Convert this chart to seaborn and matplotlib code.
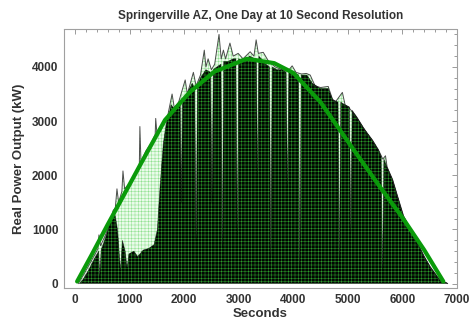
import matplotlib
matplotlib.use("Agg")
import matplotlib.pyplot as plt
import seaborn as sns
from matplotlib.ticker import MultipleLocator

# ---- data ----
peak_s = [60, 150, 300, 420, 440, 470, 560, 650, 700, 740, 770, 800, 860, 880, 910,
          1000, 1100, 1180, 1190, 1210, 1300, 1400, 1470, 1480, 1500, 1600, 1700,
          1780, 1820, 1900, 2020, 2060, 2170, 2220, 2300, 2370, 2400, 2440, 2500,
          2560, 2640, 2680, 2720, 2760, 2840, 2900, 2990, 3080, 3210, 3280, 3320,
          3360, 3450, 3550, 3670, 3800, 3900, 3980, 4050, 4150, 4240, 4310, 4400,
          4500, 4640, 4720, 4770, 4900, 4950, 5010, 5100, 5160, 5280, 5350, 5450,
          5560, 5640, 5690, 5720, 5820, 5900, 6020, 6150, 6275, 6400, 6510, 6640,
          6720, 6800, 6830]
peak_kw = [0, 150, 420, 640, 900, 700, 900, 1150, 1350, 1400, 1750, 1500, 1700, 2080, 1750,
           1850, 2000, 2200, 2900, 2250, 2450, 2600, 2750, 3050, 2800, 2950, 3100,
           3500, 3250, 3350, 3760, 3500, 3900, 3650, 3850, 4310, 4000, 4150, 3950,
           4050, 4600, 4150, 4310, 4150, 4440, 4200, 4250, 4150, 4280, 4200, 4500,
           4250, 4270, 4100, 4000, 3950, 3920, 4020, 3900, 3870, 3880, 3850, 3650,
           3620, 3640, 3400, 3350, 3530, 3300, 3260, 3150, 3080, 2880, 2780, 2650,
           2470, 2300, 2360, 2150, 1920, 1650, 1250, 1000, 760, 500, 310, 130,
           30, 20, 0]

base_s = [80, 150, 250, 350, 435, 455, 480, 560, 650, 700, 740, 780, 835, 870, 920,
          955, 990, 1080, 1150, 1250, 1350, 1450, 1510, 1560, 1620, 1680, 1720, 1760,
          1850, 1900, 1930, 1950, 1970, 2050, 2150, 2195, 2220, 2245, 2300, 2400,
          2485, 2510, 2535, 2600, 2675, 2700, 2725, 2800, 2900, 2950, 2975, 3000,
          3100, 3200, 3300, 3325, 3345, 3370, 3500, 3565, 3590, 3615, 3700, 3800,
          3870, 3895, 3920, 4050, 4095, 4120, 4145, 4250, 4350, 4500, 4640, 4720,
          4820, 4845, 4870, 4950, 5030, 5055, 5080, 5160, 5300, 5450, 5560, 5610,
          5635, 5660, 5720, 5820, 5900, 6020, 6150, 6275, 6400, 6510, 6640, 6720,
          6800, 6830]
base_kw = [0, 80, 250, 450, 600, 150, 620, 850, 1150, 1300, 1250, 1000, 250, 800, 600,
           300, 550, 600, 500, 620, 650, 720, 1000, 1800, 2600, 3000, 3100, 3300,
           3200, 3330, 3380, 1500, 3400, 3500, 3700, 3600, 800, 3650, 3800, 3950,
           3900, 1500, 3950, 4000, 4050, 700, 4100, 4100, 4150, 4150, 900, 4150,
           4100, 4200, 4150, 4150, 2000, 4200, 4050, 4000, 500, 4000, 3950, 3950,
           3900, 1800, 3900, 3880, 3850, 300, 3850, 3850, 3700, 3600, 3600, 3400,
           3350, 450, 3350, 3300, 3260, 950, 3200, 3080, 2860, 2650, 2470, 2350,
           250, 2300, 2150, 1920, 1650, 1250, 1000, 760, 500, 310, 130, 30,
           20, 0]

fit_s = [40, 300, 600, 850, 1200, 1650, 2100, 2550, 3150, 3650, 4000, 4500, 4700,
         5100, 5600, 6000, 6400, 6750]
fit_kw = [40, 520, 1090, 1550, 2200, 3020, 3530, 3910, 4150, 4070, 3890, 3350, 3060,
          2480, 1770, 1220, 620, 40]

x_ticks = [0, 1000, 2000, 3000, 4000, 5000, 6000, 7000]
y_ticks = [0, 1000, 2000, 3000, 4000]

# ---- style ----
sns.set_theme(style="white")
plt.rcParams["font.family"] = ["Liberation Sans", "DejaVu Sans"]
plt.rcParams["hatch.linewidth"] = 0.35

fig = plt.figure(figsize=(4.69, 3.27), dpi=100)
ax = fig.add_axes([0.1365, 0.1193, 0.8379, 0.792])

# light layer (envelope incl. spikes)
ax.fill_between(peak_s, 0, peak_kw, facecolor="#eafbea", edgecolor="#8ee08e",
                hatch="+++++", linewidth=0, zorder=1)
# dark layer (sustained output with cloud dips)
ax.fill_between(base_s, 0, base_kw, facecolor="#030603", edgecolor="#2a9e2a",
                hatch="+++++", linewidth=0, zorder=2)
sns.lineplot(x=peak_s, y=peak_kw, ax=ax, color="#222222", lw=0.7, alpha=0.8,
             estimator=None, sort=False, zorder=3)
sns.lineplot(x=base_s, y=base_kw, ax=ax, color="#000000", lw=0.5, alpha=0.5,
             estimator=None, sort=False, zorder=3)
# fitted curve
sns.lineplot(x=fit_s, y=fit_kw, ax=ax, color="#0a9a0a", lw=3.0,
             estimator=None, sort=False, zorder=5)

ax.set_xlim(-200, 7000)
ax.set_ylim(-80, 4700)
ax.set_xticks(x_ticks)
ax.set_yticks(y_ticks)
ax.xaxis.set_minor_locator(MultipleLocator(200))
ax.yaxis.set_minor_locator(MultipleLocator(200))
ax.tick_params(which="both", direction="in", top=True, right=True, color="#9a9a9a",
               width=0.7)
ax.tick_params(which="major", length=3.5, labelsize=8.5, labelcolor="#333333", pad=4)
ax.tick_params(which="minor", length=2)
for lbl in ax.get_xticklabels() + ax.get_yticklabels():
    lbl.set_fontweight("bold")
for sp in ax.spines.values():
    sp.set_color("#a0a0a0")
    sp.set_linewidth(0.8)
    sp.set_linestyle((0, (2, 1)))

ax.set_title("Springerville AZ, One Day at 10 Second Resolution", fontsize=8.5,
             fontweight="bold", color="#333333", pad=7)
ax.set_xlabel("Seconds", fontsize=9.5, fontweight="bold", color="#333333", labelpad=2)
ax.set_ylabel("Real Power Output (kW)", fontsize=9.5, fontweight="bold",
              color="#333333", labelpad=5)

fig.savefig("out.png", dpi=100)
